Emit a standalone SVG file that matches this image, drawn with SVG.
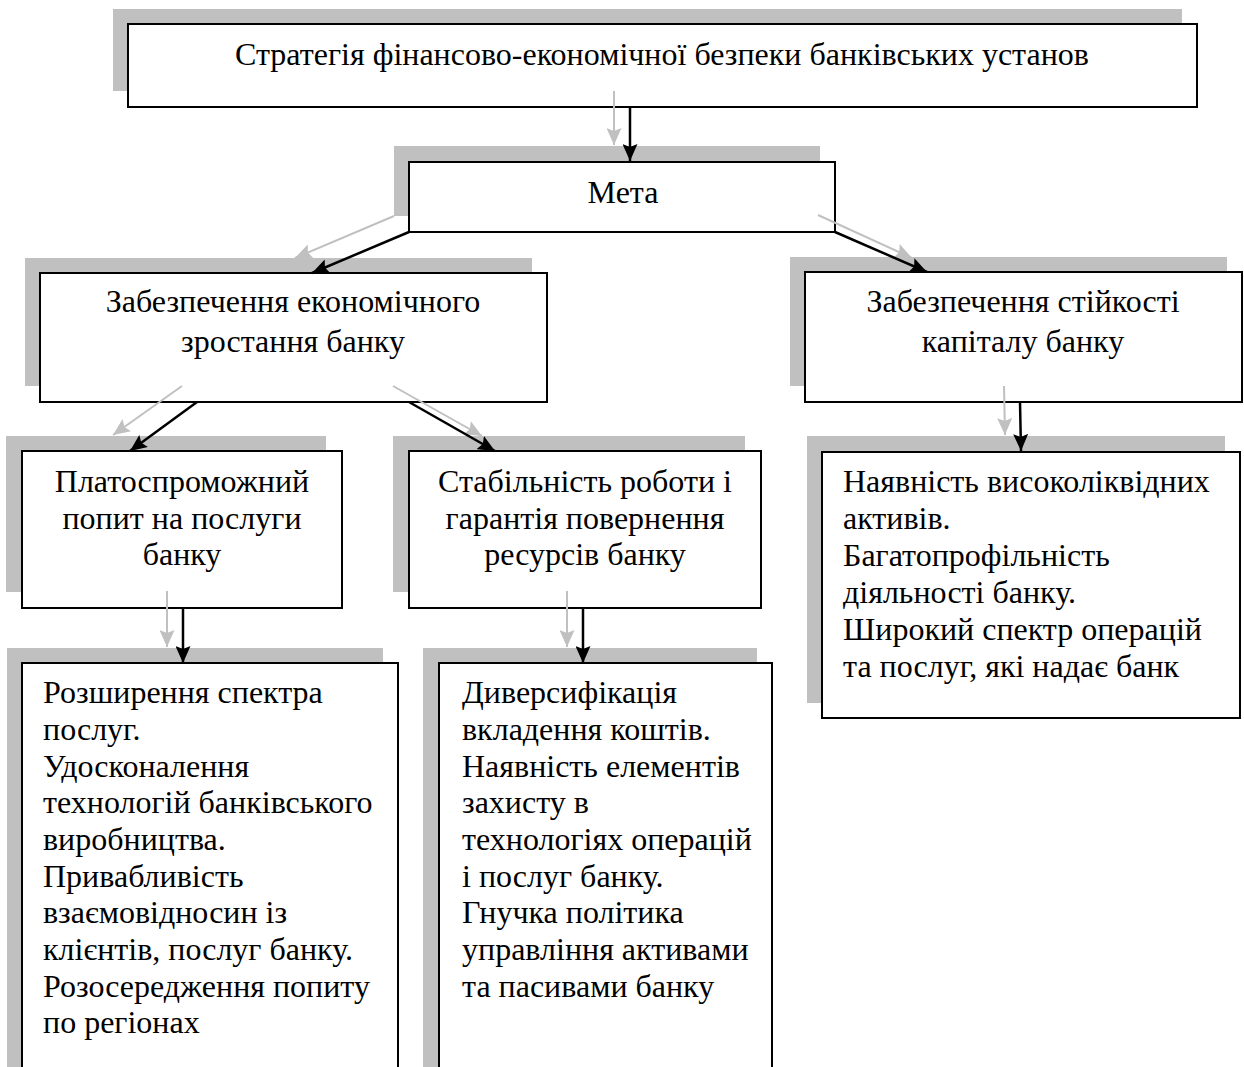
<svg xmlns="http://www.w3.org/2000/svg" width="1244" height="1067" viewBox="0 0 1244 1067">
<defs>
<style>
.sh{fill:#c0c0c0;stroke:none}
.bx{fill:#ffffff;stroke:#000000;stroke-width:2}
.t{font-family:"Liberation Serif","Times New Roman",serif;font-size:32px;fill:#000000}
.c{text-anchor:middle}
.ab{stroke:#000000;stroke-width:2.5;fill:none;marker-end:url(#mb)}
.ag{stroke:#c0c0c0;stroke-width:2;fill:none;marker-end:url(#mg)}
</style>
<marker id="mb" markerUnits="userSpaceOnUse" markerWidth="18" markerHeight="15" refX="17" refY="7.5" orient="auto">
<path d="M0,0 L17,7.5 L0,15 L3,7.5 Z" fill="#000000"/>
</marker>
<marker id="mg" markerUnits="userSpaceOnUse" markerWidth="18" markerHeight="15" refX="17" refY="7.5" orient="auto">
<path d="M0,0 L17,7.5 L0,15 L3,7.5 Z" fill="#c0c0c0"/>
</marker>
</defs>
<rect width="1244" height="1067" fill="#ffffff"/>

<g id="node-strategy">
<rect class="sh" x="113" y="9" width="1069" height="82"/>
<rect class="bx" x="128" y="24" width="1069" height="83"/>
<text class="t c" x="662" y="65">Стратегія фінансово-економічної безпеки банківських установ</text>
</g>

<g id="node-meta">
<rect class="sh" x="394" y="146" width="426" height="70"/>
<rect class="bx" x="409" y="162" width="426" height="70"/>
<text class="t c" x="623" y="203">Мета</text>
</g>

<g id="node-growth">
<rect class="sh" x="25" y="258" width="507" height="128"/>
<rect class="bx" x="40" y="273" width="507" height="129"/>
<text class="t c" x="293" y="312">Забезпечення економічного</text>
<text class="t c" x="293" y="352">зростання банку</text>
</g>

<g id="node-capital">
<rect class="sh" x="790" y="257" width="437" height="129"/>
<rect class="bx" x="805" y="272" width="437" height="130"/>
<text class="t c" x="1023" y="312">Забезпечення стійкості</text>
<text class="t c" x="1023" y="352">капіталу банку</text>
</g>

<g id="node-demand">
<rect class="sh" x="6" y="436" width="320" height="156"/>
<rect class="bx" x="22" y="451" width="320" height="157"/>
<text class="t c" x="182" y="492">Платоспроможний</text>
<text class="t c" x="182" y="529">попит на послуги</text>
<text class="t c" x="182" y="565">банку</text>
</g>

<g id="node-stability">
<rect class="sh" x="393" y="436" width="352" height="156"/>
<rect class="bx" x="409" y="451" width="352" height="157"/>
<text class="t c" x="585" y="492">Стабільність роботи і</text>
<text class="t c" x="585" y="529">гарантія повернення</text>
<text class="t c" x="585" y="565">ресурсів банку</text>
</g>

<g id="node-liquidity">
<rect class="sh" x="807" y="436" width="418" height="267"/>
<rect class="bx" x="822" y="452" width="418" height="266"/>
<text class="t" x="843" y="492">Наявність високоліквідних</text>
<text class="t" x="843" y="529">активів.</text>
<text class="t" x="843" y="566">Багатопрофільність</text>
<text class="t" x="843" y="603">діяльності банку.</text>
<text class="t" x="843" y="640">Широкий спектр операцій</text>
<text class="t" x="843" y="677">та послуг, які надає банк</text>
</g>

<g id="node-services">
<rect class="sh" x="7" y="648" width="376" height="440"/>
<rect class="bx" x="22" y="663" width="376" height="440"/>
<text class="t" x="43" y="703">Розширення спектра</text>
<text class="t" x="43" y="740">послуг.</text>
<text class="t" x="43" y="777">Удосконалення</text>
<text class="t" x="43" y="813">технологій банківського</text>
<text class="t" x="43" y="850">виробництва.</text>
<text class="t" x="43" y="887">Привабливість</text>
<text class="t" x="43" y="923">взаємовідносин із</text>
<text class="t" x="43" y="960">клієнтів, послуг банку.</text>
<text class="t" x="43" y="997">Розосередження попиту</text>
<text class="t" x="43" y="1033">по регіонах</text>
</g>

<g id="node-diversification">
<rect class="sh" x="423" y="648" width="334" height="440"/>
<rect class="bx" x="439" y="663" width="333" height="440"/>
<text class="t" x="462" y="703">Диверсифікація</text>
<text class="t" x="462" y="740">вкладення коштів.</text>
<text class="t" x="462" y="777">Наявність елементів</text>
<text class="t" x="462" y="813">захисту в</text>
<text class="t" x="462" y="850">технологіях операцій</text>
<text class="t" x="462" y="887">і послуг банку.</text>
<text class="t" x="462" y="923">Гнучка політика</text>
<text class="t" x="462" y="960">управління активами</text>
<text class="t" x="462" y="997">та пасивами банку</text>
</g>

<g id="connectors">
<line class="ag" x1="614" y1="91" x2="614" y2="145"/>
<line class="ab" x1="630" y1="107" x2="630" y2="161"/>
<line class="ag" x1="394" y1="216" x2="295" y2="258"/>
<line class="ab" x1="409" y1="232" x2="312" y2="273"/>
<line class="ag" x1="818" y1="215" x2="912" y2="258"/>
<line class="ab" x1="835" y1="232" x2="927" y2="272"/>
<line class="ag" x1="182" y1="386" x2="113" y2="435"/>
<line class="ab" x1="197" y1="402" x2="130" y2="451"/>
<line class="ag" x1="393" y1="386" x2="482" y2="436"/>
<line class="ab" x1="409" y1="402" x2="495" y2="451"/>
<line class="ag" x1="1004" y1="386" x2="1005" y2="435"/>
<line class="ab" x1="1020" y1="402" x2="1021" y2="451"/>
<line class="ag" x1="167" y1="591" x2="167" y2="647"/>
<line class="ab" x1="183" y1="608" x2="183" y2="663"/>
<line class="ag" x1="567" y1="591" x2="567" y2="647"/>
<line class="ab" x1="583" y1="608" x2="583" y2="663"/>
</g>
</svg>
